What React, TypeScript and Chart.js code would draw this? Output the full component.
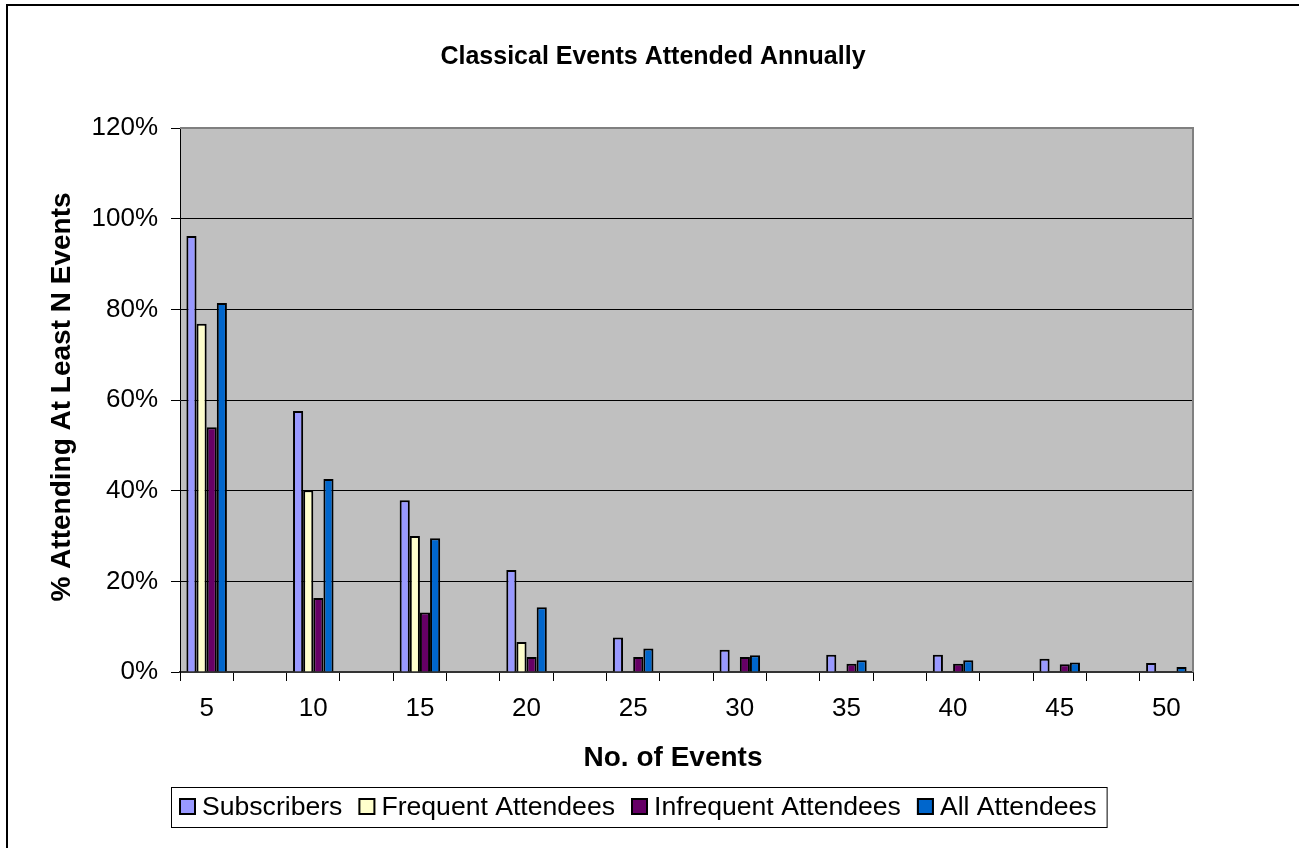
import React, { useEffect, useRef } from 'react';
import { Chart, registerables } from 'chart.js';

Chart.register(...registerables);

const categories = ['5', '10', '15', '20', '25', '30', '35', '40', '45', '50'];
const subscribers = [96.2, 57.6, 37.9, 22.5, 7.6, 4.9, 3.8, 3.8, 2.9, 2.0];
const frequentAttendees = [76.8, 40.1, 30.0, 6.6, 0, 0, 0, 0, 0, 0];
const infrequentAttendees = [54.0, 16.3, 13.1, 3.3, 3.3, 3.3, 1.8, 1.8, 1.7, 0];
const allAttendees = [81.4, 42.6, 29.5, 14.3, 5.2, 3.7, 2.6, 2.6, 2.1, 1.1];
const seriesNames = ['Subscribers', 'Frequent Attendees', 'Infrequent Attendees', 'All Attendees'];
const seriesColors = ['#9999FF', '#FFFFCC', '#660066', '#0066CC'];
const yMin = 0;
const yMax = 120;
const yStep = 20;
const chartTitle = 'Classical Events Attended Annually';
const xTitle = 'No. of Events';
const yTitle = '% Attending At Least N Events';

const FONT = '"Liberation Sans", Arial, sans-serif';

// Excel layout: each labelled category is followed by an empty category
const interleave = <T,>(arr: T[], filler: T): T[] =>
  arr.flatMap((v, i) => (i < arr.length - 1 ? [v, filler] : [v]));

const decorPlugin = {
  id: 'decor',
  beforeDraw(chart: any) {
    const { ctx, chartArea } = chart;
    ctx.save();
    ctx.fillStyle = '#FFFFFF';
    ctx.fillRect(0, 0, chart.width, chart.height);
    ctx.fillStyle = '#C0C0C0';
    ctx.fillRect(chartArea.left, chartArea.top, chartArea.right - chartArea.left, chartArea.bottom - chartArea.top);
    ctx.restore();
  },
  beforeDatasetsDraw(chart: any) {
    const { ctx, chartArea } = chart;
    ctx.save();
    ctx.strokeStyle = '#808080';
    ctx.lineWidth = 2;
    ctx.beginPath();
    ctx.moveTo(chartArea.left, chartArea.top);
    ctx.lineTo(chartArea.right, chartArea.top);
    ctx.lineTo(chartArea.right, chartArea.bottom);
    ctx.stroke();
    ctx.restore();
  },
  afterDraw(chart: any) {
    const { ctx, chartArea } = chart;
    ctx.save();
    // outer frame
    ctx.strokeStyle = '#000';
    ctx.lineWidth = 2;
    ctx.strokeRect(7, 5, 1400, 1000);

    // main title
    ctx.fillStyle = '#000';
    ctx.textAlign = 'center';
    ctx.textBaseline = 'middle';
    ctx.font = `bold 25px ${FONT}`;
    ctx.fillText(chartTitle, 653, 57);

    // x title
    ctx.font = `bold 28px ${FONT}`;
    ctx.fillText(xTitle, 673, 758);

    // y title
    ctx.save();
    ctx.translate(62, 397);
    ctx.rotate(-Math.PI / 2);
    ctx.fillText(yTitle, 0, 0);
    ctx.restore();

    // legend
    ctx.font = `26.6px ${FONT}`;
    ctx.textAlign = 'left';
    let x = 179;
    const boxTop = 798;
    const box = 17;
    seriesNames.forEach((name, i) => {
      ctx.fillStyle = seriesColors[i];
      ctx.fillRect(x, boxTop, box, box);
      ctx.strokeStyle = '#000';
      ctx.lineWidth = 2;
      ctx.strokeRect(x + 1, boxTop + 1, box - 2, box - 2);
      ctx.fillStyle = '#000';
      ctx.fillText(name, x + 23, boxTop + box / 2 + 1);
      const w = ctx.measureText(name).width;
      x = x + 23 + w + 16;
    });
    const legendRight = x - 16 + 10;
    ctx.strokeStyle = '#000';
    ctx.lineWidth = 1;
    ctx.strokeRect(171.5, 787.5, legendRight - 171, 40);
    ctx.restore();
  },
};

export default function App() {
  const canvasRef = useRef<HTMLCanvasElement | null>(null);

  useEffect(() => {
    if (!canvasRef.current) return;
    const labels = interleave(categories, '');
    const series = [subscribers, frequentAttendees, infrequentAttendees, allAttendees];
    const chart = new Chart(canvasRef.current, {
      type: 'bar',
      data: {
        labels,
        datasets: series.map((vals, i) => ({
          label: seriesNames[i],
          data: interleave<number | null>(vals, null),
          backgroundColor: seriesColors[i],
          borderColor: '#000000',
          borderWidth: 2,
          borderSkipped: 'start',
          barPercentage: 1,
          categoryPercentage: 0.76,
        })),
      },
      options: {
        responsive: true,
        maintainAspectRatio: false,
        animation: false,
        layout: { padding: { left: 0, right: 106, top: 128, bottom: 0 } },
        plugins: {
          legend: { display: false },
          title: { display: false },
          tooltip: { enabled: false },
        },
        scales: {
          x: {
            type: 'category',
            offset: true,
            grid: {
              offset: true,
              drawOnChartArea: false,
              drawTicks: true,
              tickLength: 9,
              color: '#000',
              tickColor: '#000',
              lineWidth: 1,
            },
            border: { display: true, color: '#333', width: 2 },
            ticks: {
              autoSkip: false,
              maxRotation: 0,
              minRotation: 0,
              padding: 12,
              color: '#000',
              font: { family: FONT, size: 26 },
            },
            afterFit: (scale: any) => {
              scale.height = 176;
            },
          },
          y: {
            min: yMin,
            max: yMax,
            grid: {
              color: (c: any) => (c.tick && c.tick.value === yMax ? 'rgba(0,0,0,0)' : '#000'),
              tickColor: '#000',
              tickLength: 9,
              lineWidth: 1,
              drawTicks: true,
            },
            border: { display: true, color: '#000', width: 1 },
            ticks: {
              stepSize: yStep,
              padding: 13,
              color: '#000',
              font: { family: FONT, size: 26 },
              callback: (v: any) => `${v}%`,
            },
            afterFit: (scale: any) => {
              scale.width = 180;
            },
          },
        },
      },
      plugins: [decorPlugin],
    });
    return () => chart.destroy();
  }, []);

  return (
    <div style={{ position: 'fixed', left: 0, top: 0, width: '1299px', height: '848px', background: '#fff' }}>
      <canvas ref={canvasRef} />
    </div>
  );
}
